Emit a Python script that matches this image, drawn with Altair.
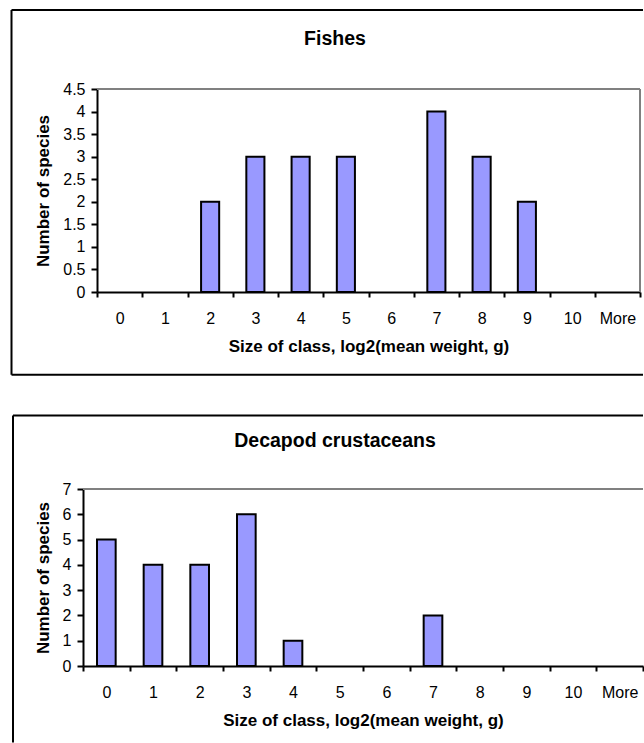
import altair as alt
import pandas as pd

# ---- data ----
categories = ["0", "1", "2", "3", "4", "5", "6", "7", "8", "9", "10", "More"]
fishes = [0, 0, 2, 3, 3, 3, 0, 4, 3, 2, 0, 0]
decapods = [5, 4, 4, 6, 1, 0, 0, 2, 0, 0, 0, 0]
fish_ticks = [0, 0.5, 1, 1.5, 2, 2.5, 3, 3.5, 4, 4.5]
decapod_ticks = [0, 1, 2, 3, 4, 5, 6, 7]
panel_titles = ["Fishes", "Decapod crustaceans"]
x_title = "Size of class, log2(mean weight, g)"
y_title = "Number of species"

FONT = "Liberation Sans"
BAR = "#9999FF"
GRAY = "#808080"


def panel(values, ymax, yticks, title, W, H, x0, fl, ft, fb, fr, tx, ty):
    """x0: where the plot area starts inside the group (pixels)."""
    df = pd.DataFrame({"cls": categories, "n": values})
    one = pd.DataFrame({"k": [0]})
    x = alt.X(
        "cls:N",
        sort=categories,
        scale=alt.Scale(domain=categories, paddingInner=0, paddingOuter=0,
                        range=[x0, W]),
        axis=alt.Axis(title=x_title, tickBand="extent", labelAngle=0),
    )
    y = alt.Y(
        "n:Q",
        scale=alt.Scale(domain=[0, ymax], nice=False),
        axis=alt.Axis(title=y_title, values=yticks, format="~g", grid=False,
                      offset=-x0),
    )
    bars = (
        alt.Chart(df)
        .transform_filter("datum.n > 0")
        .mark_bar(width=alt.RelativeBandSize(0.4), fill=BAR, stroke="black",
                  strokeWidth=2)
        .encode(x=x, y=y)
    )
    gray_top = alt.Chart(one).mark_rule(color=GRAY, strokeWidth=2).encode(
        x=alt.value(x0), x2=alt.value(W), y=alt.value(0))
    layers = [gray_top]
    if fb is not None:
        gray_right = alt.Chart(one).mark_rule(color=GRAY, strokeWidth=2).encode(
            x=alt.value(W), y=alt.value(0), y2=alt.value(H))
        layers.append(gray_right)
    layers.append(bars)
    frame_left = alt.Chart(one).mark_rule(color="black", strokeWidth=2).encode(
        x=alt.value(fl), y=alt.value(ft), y2=alt.value(fb if fb is not None else fr[1]))
    frame_top = alt.Chart(one).mark_rule(color="black", strokeWidth=2).encode(
        x=alt.value(fl), x2=alt.value(fr[0]), y=alt.value(ft))
    layers += [frame_left, frame_top]
    if fb is not None:
        frame_bottom = alt.Chart(one).mark_rule(color="black", strokeWidth=2).encode(
            x=alt.value(fl), x2=alt.value(fr[0]), y=alt.value(fb))
        layers.append(frame_bottom)
    ttl = alt.Chart(one).mark_text(
        font=FONT, fontSize=19.5, fontWeight="bold", color="black",
        align="center", baseline="alphabetic"
    ).encode(x=alt.value(tx), y=alt.value(ty), text=alt.value(title))
    layers.append(ttl)
    return alt.layer(*layers).properties(width=W, height=H)


top = panel(fishes, 4.5, fish_ticks, panel_titles[0], 557, 203, 14,
            -71.5, -79, 285.7, (560, None), 252, -43.7)
bottom = panel(decapods, 7, decapod_ticks, panel_titles[1], 560, 177, 0,
               -70, -73.5, None, (560, 253.5), 252, -42)

chart = (
    alt.vconcat(top, bottom, spacing=38)
    .properties(padding={"left": 10, "top": 9, "right": 0, "bottom": 0},
                background="white")
    .configure_view(strokeWidth=0)
    .configure_axis(
        domainColor="black", domainWidth=2, tickColor="black", tickWidth=2,
        labelFont=FONT, labelFontSize=16, labelColor="black",
        titleFont=FONT, titleFontSize=17, titleFontWeight="bold",
        titleColor="black", zindex=1,
    )
    .configure_axisX(tickSize=5, labelPadding=13, titlePadding=12)
    .configure_axisY(tickSize=6, labelPadding=6, titlePadding=10)
)

chart.save("out.html", embed_options={"renderer": "svg", "actions": False})
